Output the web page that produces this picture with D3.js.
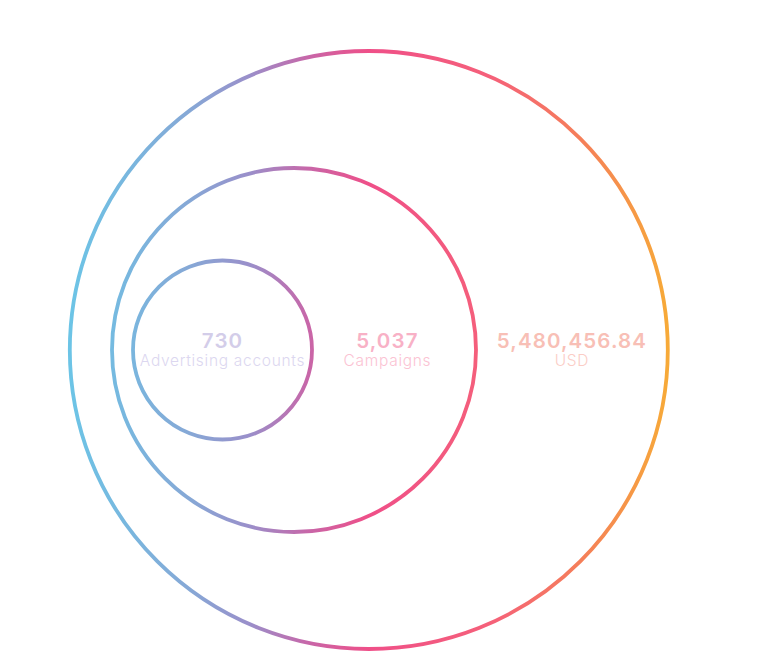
<!DOCTYPE html>
<html>
<head>
<meta charset="utf-8">
<script src="https://cdn.jsdelivr.net/npm/d3@7"></script>
<style>
html,body{margin:0;padding:0;background:#fff;}
svg{display:block;}
</style>
</head>
<body>
<svg id="chart" width="768" height="663"></svg>
<script>
// Data
const categories = ["Advertising accounts", "Campaigns", "USD"];
const values = [730, 5037, 5480456.84];
const valueLabels = ["730", "5,037", "5,480,456.84"];
const numberColors = ["#d3cde9", "#f8b1c6", "#f8bfb6"];
const labelColors = ["#dcd7f0", "#fbc3d3", "#fbcdc6"];

const svg = d3.select("#chart");
const W = 768, H = 663;
const cy = 350;

// Layout: radius by rank (nested circles)
const rScale = d3.scaleOrdinal().domain(categories).range([89.5, 182, 299]);
const cxScale = d3.scaleOrdinal().domain(categories).range([222.5, 294, 368.8]);

// Gradient across the whole drawing (user space)
const defs = svg.append("defs");
const grad = defs.append("linearGradient")
  .attr("id", "ringGrad")
  .attr("gradientUnits", "userSpaceOnUse")
  .attr("x1", 70).attr("y1", 0).attr("x2", 668).attr("y2", 0);
const stops = [
  [0, "#6cc4e6"],
  [0.2, "#86a8d6"],
  [0.3, "#9a8fca"],
  [0.4, "#c866a8"],
  [0.5, "#ef4f88"],
  [0.7, "#f5607a"],
  [0.86, "#f58058"],
  [1, "#f7aa38"]
];
grad.selectAll("stop").data(stops).enter().append("stop")
  .attr("offset", d => d[0])
  .attr("stop-color", d => d[1]);

const data = categories.map((c, i) => ({cat: c, value: values[i], label: valueLabels[i], i}));

svg.selectAll("circle.ring").data(data).enter().append("circle")
  .attr("class", "ring")
  .attr("cx", d => cxScale(d.cat))
  .attr("cy", cy)
  .attr("r", d => rScale(d.cat))
  .attr("fill", "none")
  .attr("stroke", "url(#ringGrad)")
  .attr("stroke-width", 3.8);

// Label positions: inside innermost circle center, then between right edges of successive rings
function labelX(d) {
  if (d.i === 0) return cxScale(d.cat);
  const prev = categories[d.i - 1];
  const innerRight = cxScale(prev) + rScale(prev);
  const outerRight = cxScale(d.cat) + rScale(d.cat);
  return innerRight + (outerRight - innerRight) * (d.i === 1 ? 0.46 : 0.5);
}

const g = svg.selectAll("g.lbl").data(data).enter().append("g")
  .attr("class", "lbl")
  .attr("transform", d => `translate(${labelX(d)},0)`);

g.append("text")
  .attr("x", 0).attr("y", 348)
  .attr("text-anchor", "middle")
  .attr("font-family", "Inter, 'Noto Sans', sans-serif")
  .attr("font-weight", 600)
  .attr("font-size", 20.5)
  .attr("letter-spacing", 1.1)
  .attr("fill", d => numberColors[d.i])
  .text(d => d.label);

g.append("text")
  .attr("x", 0).attr("y", 366)
  .attr("text-anchor", "middle")
  .attr("font-family", "Inter, 'Noto Sans', sans-serif")
  .attr("font-weight", 300)
  .attr("font-size", 15.5)
  .attr("letter-spacing", 0.7)
  .attr("fill", d => labelColors[d.i])
  .text(d => d.cat);
</script>
</body>
</html>
